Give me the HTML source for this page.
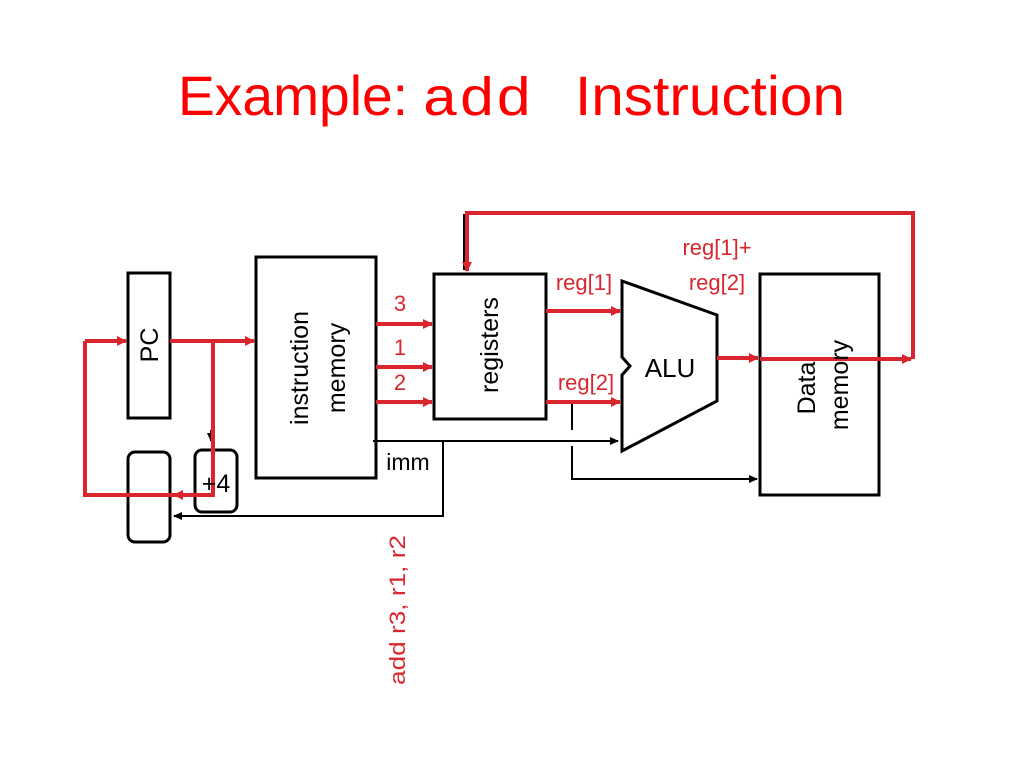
<!DOCTYPE html>
<html><head><meta charset="utf-8"><style>
html,body{margin:0;padding:0;background:#fff;}
svg{display:block;}
.mono{font-family:"Liberation Mono","DejaVu Sans Mono",monospace;}
</style></head><body>
<svg width="1024" height="768" viewBox="0 0 1024 768" xmlns="http://www.w3.org/2000/svg" style="font-family:'Liberation Sans',sans-serif">
<defs>
<marker id="ar" markerWidth="10" markerHeight="10" refX="9" refY="5" orient="auto" markerUnits="userSpaceOnUse"><path d="M0,0 L10,5 L0,10 Z" fill="#d9262e"/></marker>
<marker id="ab" markerWidth="9" markerHeight="8" refX="8" refY="4" orient="auto" markerUnits="userSpaceOnUse"><path d="M0,0 L9,4 L0,8 Z" fill="#000"/></marker>
</defs>
<!-- title -->
<text x="178" y="115" font-size="56" fill="#f00" textLength="230" lengthAdjust="spacingAndGlyphs">Example:</text>
<text x="422" y="115" font-size="54" fill="#f00" class="mono" textLength="110" lengthAdjust="spacingAndGlyphs">add</text>
<text x="575" y="115" font-size="56" fill="#f00" textLength="270" lengthAdjust="spacingAndGlyphs">Instruction</text>

<g fill="#fff" stroke="#000" stroke-width="3">
<rect x="128" y="273" width="42" height="145"/>
<rect x="256" y="257" width="120" height="221"/>
<rect x="434" y="274" width="112" height="145"/>
<rect x="760" y="274" width="119" height="221"/>
<rect x="128" y="452" width="42" height="90" rx="7"/>
<rect x="195" y="450" width="42" height="62" rx="7"/>
<path d="M622,281 L717,315 L717,401 L622,451 L622,375 L630,366 L622,357 Z"/>
</g>

<!-- black lines -->
<g stroke="#000" stroke-width="2" fill="none">
<line x1="373" y1="441" x2="618" y2="441" marker-end="url(#ab)"/>
<polyline points="443,441 443,516 174,516" marker-end="url(#ab)"/>
<line x1="572" y1="404" x2="572" y2="430"/>
<polyline points="572,446 572,479 757,479" marker-end="url(#ab)"/>
<line x1="464" y1="214" x2="464" y2="270"/>
<line x1="211" y1="430" x2="211" y2="441" marker-end="url(#ab)"/>
</g>

<!-- red lines -->
<g stroke="#d9262e" stroke-width="4" fill="none">
<line x1="170" y1="341" x2="254" y2="341" marker-end="url(#ar)"/>
<line x1="85" y1="341" x2="126" y2="341" marker-end="url(#ar)"/>
<polyline points="213,341 213,495 174,495" marker-end="url(#ar)"/>
<polyline points="175,495 85,495 85,341"/>
<line x1="376" y1="324" x2="432" y2="324" marker-end="url(#ar)"/>
<line x1="376" y1="367" x2="432" y2="367" marker-end="url(#ar)"/>
<line x1="376" y1="402" x2="432" y2="402" marker-end="url(#ar)"/>
<line x1="546" y1="311" x2="620" y2="311" marker-end="url(#ar)"/>
<line x1="546" y1="402" x2="620" y2="402" marker-end="url(#ar)"/>
<line x1="717" y1="358" x2="758" y2="358" marker-end="url(#ar)"/>
<line x1="760" y1="359" x2="911" y2="359" marker-end="url(#ar)"/>
<polyline points="913,359 913,213 467,213 467,271" marker-end="url(#ar)"/>
</g>

<!-- labels -->
<g font-size="25" fill="#000" text-anchor="middle">
<text transform="translate(158,345) rotate(-90)">PC</text>
<text transform="translate(308,368) rotate(-90)">instruction</text>
<text transform="translate(345,368) rotate(-90)">memory</text>
<text transform="translate(498,345) rotate(-90)">registers</text>
<text transform="translate(815,388) rotate(-90)">Data</text>
<text transform="translate(848,385) rotate(-90)">memory</text>
<text x="670" y="377" font-size="26">ALU</text>
<text x="216" y="492">+4</text>
<text x="408" y="470" font-size="23">imm</text>
</g>
<g font-size="22" fill="#d9262e" text-anchor="middle">
<text x="400" y="311">3</text>
<text x="400" y="355">1</text>
<text x="400" y="390">2</text>
<text x="584" y="290">reg[1]</text>
<text x="586" y="390">reg[2]</text>
<text x="717" y="255">reg[1]+</text>
<text x="717" y="290">reg[2]</text>
<text transform="translate(405,610) rotate(-90)" font-size="22" textLength="150" lengthAdjust="spacingAndGlyphs">add r3, r1, r2</text>
</g>
</svg>
</body></html>
